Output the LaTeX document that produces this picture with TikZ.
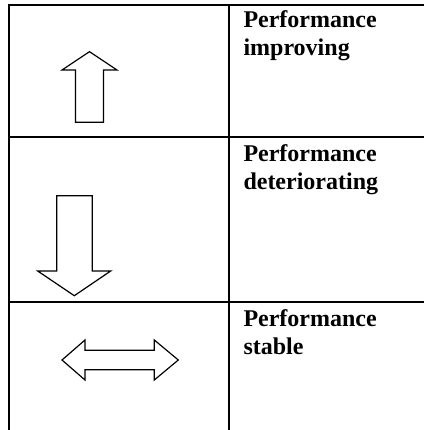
\documentclass[tikz,border=0pt]{standalone}
\usepackage{fontspec}
\setmainfont{Liberation Serif}
\begin{document}
\begin{tikzpicture}[x = 1pt, y = 1pt,
        rule/.style = {line width = 2pt},
        outline/.style = {line width = 1.2pt, line join = miter},
        celltext/.style = {anchor = base west, align = left, inner sep = 0pt, font = \fontsize{24}{27.5}\selectfont\bfseries}]
    \useasboundingbox (0, 0) rectangle (424, -430);
    % table lines
    \draw[rule] (424, -4.7) -- (8.7, -4.7) -- (8.7, -430)
                (228.7, -4.7) -- (228.7, -430)
                (8.7, -137.3) -- (424, -137.3)
                (8.7, -302) -- (424, -302);
    % trend arrows
    \draw[outline] (89.5, -51.7) -- (117, -70) -- (103.5, -70) -- (103.5, -122.3) -- (75.5, -122.3) -- (75.5, -70) -- (62, -70) -- cycle;
    \draw[outline] (74.3, -295.7) -- (110.7, -271) -- (92.3, -271) -- (92.3, -195.7) -- (56.7, -195.7) -- (56.7, -271) -- (37.7, -271) -- cycle;
    \draw[outline] (62, -360) -- (85, -340) -- (85, -350.3) -- (154.3, -350.3) -- (154.3, -340) -- (178.3, -360)
                   -- (154.3, -380) -- (154.3, -369.7) -- (85, -369.7) -- (85, -380) -- cycle;
    % texts (base anchor sits on the last line)
    \node[celltext] (improving) at (243.3, -55.2) {Performance\\improving};
    \node[celltext] (deteriorating) at (243.3, -189.2) {Performance\\deteriorating};
    \node[celltext] (stable) at (243.3, -354.2) {Performance\\stable};
\end{tikzpicture}
\end{document}
